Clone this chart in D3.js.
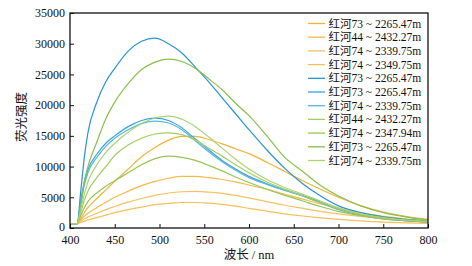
<!DOCTYPE html>
<html>
<head>
<meta charset="utf-8">
<script src="https://cdn.jsdelivr.net/npm/d3@7"></script>
<style>
  body { margin: 0; background: #fff; }
  text { font-family: "Liberation Serif", "Noto Sans CJK SC", serif; fill: #111; }
</style>
</head>
<body>
<div id="chart"></div>
<script>
// 波长 (nm)
const wavelength = [400, 408, 412, 416, 420, 430, 440, 450, 465, 480, 495, 510, 525, 540, 555, 570, 585, 600, 620, 640, 660, 680, 700, 725, 750, 775, 800];

// 荧光强度
const orange1 = [700, 700, 1500, 2500, 3300, 4800, 6200, 7600, 9600, 11600, 13100, 14300, 14900, 14900, 14400, 13700, 12900, 12100, 10700, 9200, 7700, 6300, 5000, 3600, 2600, 1900, 1400];
const orange2 = [700, 700, 1300, 1900, 2400, 3300, 4200, 5000, 6000, 6900, 7600, 8100, 8400, 8400, 8200, 7900, 7500, 7000, 6300, 5500, 4700, 3900, 3200, 2500, 1900, 1500, 1200];
const orange3 = [700, 700, 1100, 1500, 1800, 2400, 3000, 3500, 4200, 4800, 5300, 5700, 5900, 5950, 5850, 5650, 5300, 4900, 4300, 3700, 3200, 2700, 2300, 1900, 1500, 1200, 1000];
const orange4 = [700, 700, 900, 1100, 1300, 1700, 2100, 2500, 3000, 3400, 3800, 4000, 4150, 4150, 4050, 3850, 3550, 3200, 2750, 2300, 1950, 1650, 1400, 1150, 950, 850, 750];
const blue1 = [700, 700, 6000, 11500, 15500, 20500, 23800, 26000, 28800, 30400, 30900, 30000, 28500, 26200, 23800, 21200, 18600, 16000, 12700, 9700, 7200, 5200, 3600, 2500, 1800, 1400, 1100];
const blue2 = [700, 700, 4500, 7500, 9500, 12000, 13800, 15000, 16500, 17500, 17900, 17500, 16300, 14500, 12700, 11000, 9600, 8400, 7200, 6200, 5300, 4200, 3100, 2200, 1600, 1200, 1000];
const blue3 = [700, 700, 4000, 7000, 9000, 11500, 13300, 14600, 16000, 17000, 17400, 17100, 16000, 14200, 12400, 10800, 9400, 8200, 7100, 6100, 5200, 4100, 3000, 2100, 1500, 1200, 1000];
const green1 = [700, 700, 2500, 4500, 6000, 8200, 10000, 11800, 13500, 14600, 15300, 15500, 15200, 14300, 13000, 11700, 10300, 9000, 7500, 6300, 5200, 4100, 3100, 2200, 1600, 1300, 1100];
const green2 = [700, 700, 2000, 3300, 4300, 5700, 6800, 7700, 9000, 10300, 11300, 11700, 11500, 11000, 10200, 9300, 8300, 7400, 6300, 5300, 4400, 3500, 2700, 2000, 1500, 1200, 1000];
const green3 = [700, 700, 3500, 7500, 10000, 14000, 17800, 20500, 23500, 25800, 27000, 27500, 27100, 26000, 24300, 22500, 20300, 18300, 15000, 11500, 9200, 6900, 5200, 3600, 2500, 1800, 1300];
const green4 = [700, 700, 3000, 5500, 7500, 10300, 12300, 13800, 15600, 17000, 17900, 18200, 17700, 16500, 14800, 13000, 11200, 9600, 7900, 6600, 5500, 4400, 3300, 2300, 1700, 1300, 1100];

// 图例
const labels = ["红河73 ~ 2265.47m", "红河44 ~ 2432.27m", "红河74 ~ 2339.75m", "红河74 ~ 2349.75m",
  "红河73 ~ 2265.47m", "红河73 ~ 2265.47m", "红河74 ~ 2339.75m",
  "红河44 ~ 2432.27m", "红河74 ~ 2347.94m", "红河73 ~ 2265.47m", "红河74 ~ 2339.75m"];
const seriesList = [orange1, orange2, orange3, orange4, blue1, blue2, blue3, green1, green2, green3, green4];
const colors = ["#f1b43a", "#f2bb4c", "#f4c262", "#f3c059", "#2994d2", "#35a4da", "#58b5e0",
  "#a4cc62", "#98c557", "#8cbf4a", "#aed176"];

const xTicks = [400, 450, 500, 550, 600, 650, 700, 750, 800];
const yTicks = [0, 5000, 10000, 15000, 20000, 25000, 30000, 35000];

const width = 472;
const height = 266;
const margin = { top: 13, right: 44, bottom: 38, left: 70 };

const svg = d3.select("#chart")
  .append("svg")
  .attr("width", width)
  .attr("height", height);

const xScale = d3.scaleLinear().domain([400, 800]).range([margin.left, width - margin.right]);
const yScale = d3.scaleLinear().domain([0, 35000]).range([height - margin.bottom, margin.top]);

// 曲线
const line = d3.line()
  .x(d => xScale(d[0]))
  .y(d => yScale(d[1]))
  .curve(d3.curveMonotoneX);

svg.append("g")
  .selectAll("path")
  .data(seriesList)
  .join("path")
  .attr("d", s => line(wavelength.map((w, i) => [w, s[i]])))
  .attr("fill", "none")
  .attr("stroke", (d, i) => colors[i])
  .attr("stroke-width", 1.2);

// 坐标轴 (刻度朝内)
const xAxis = svg.append("g")
  .attr("transform", `translate(0, ${height - margin.bottom})`)
  .call(d3.axisBottom(xScale).tickValues(xTicks).tickSize(-4).tickPadding(7));
const yAxis = svg.append("g")
  .attr("transform", `translate(${margin.left}, 0)`)
  .call(d3.axisLeft(yScale).tickValues(yTicks).tickSize(-4).tickPadding(5).tickFormat(d3.format("d")));

[xAxis, yAxis].forEach(g => {
  g.select(".domain").remove();
  g.selectAll("line").attr("stroke", "#111");
  g.selectAll("text").style("font-size", "12px").attr("fill", "#111");
});
yAxis.selectAll("text").filter(d => d === 0).attr("dy", "0.2em");

// 外框
svg.append("rect")
  .attr("x", margin.left)
  .attr("y", margin.top)
  .attr("width", width - margin.left - margin.right)
  .attr("height", height - margin.top - margin.bottom)
  .attr("fill", "none")
  .attr("stroke", "#111")
  .attr("stroke-width", 1.3);

// 图例
const legend = svg.append("g");
const items = legend.selectAll("g.item")
  .data(labels)
  .join("g")
  .attr("class", "item")
  .attr("transform", (d, i) => `translate(0, ${23.5 + i * 13.7})`);
items.append("line")
  .attr("x1", 308).attr("x2", 325)
  .attr("stroke", (d, i) => colors[i])
  .attr("stroke-width", 1.3);
items.append("text")
  .attr("x", 328.5)
  .attr("y", 4)
  .style("font-size", "11.5px")
  .text(d => d);

// 轴标题
svg.append("text")
  .attr("x", (margin.left + width - margin.right) / 2)
  .attr("y", 259)
  .attr("text-anchor", "middle")
  .style("font-size", "12.5px")
  .text("波长 / nm");

svg.append("text")
  .attr("transform", "translate(26, 117) rotate(-90)")
  .attr("text-anchor", "middle")
  .style("font-size", "12.5px")
  .text("荧光强度");
</script>
</body>
</html>
